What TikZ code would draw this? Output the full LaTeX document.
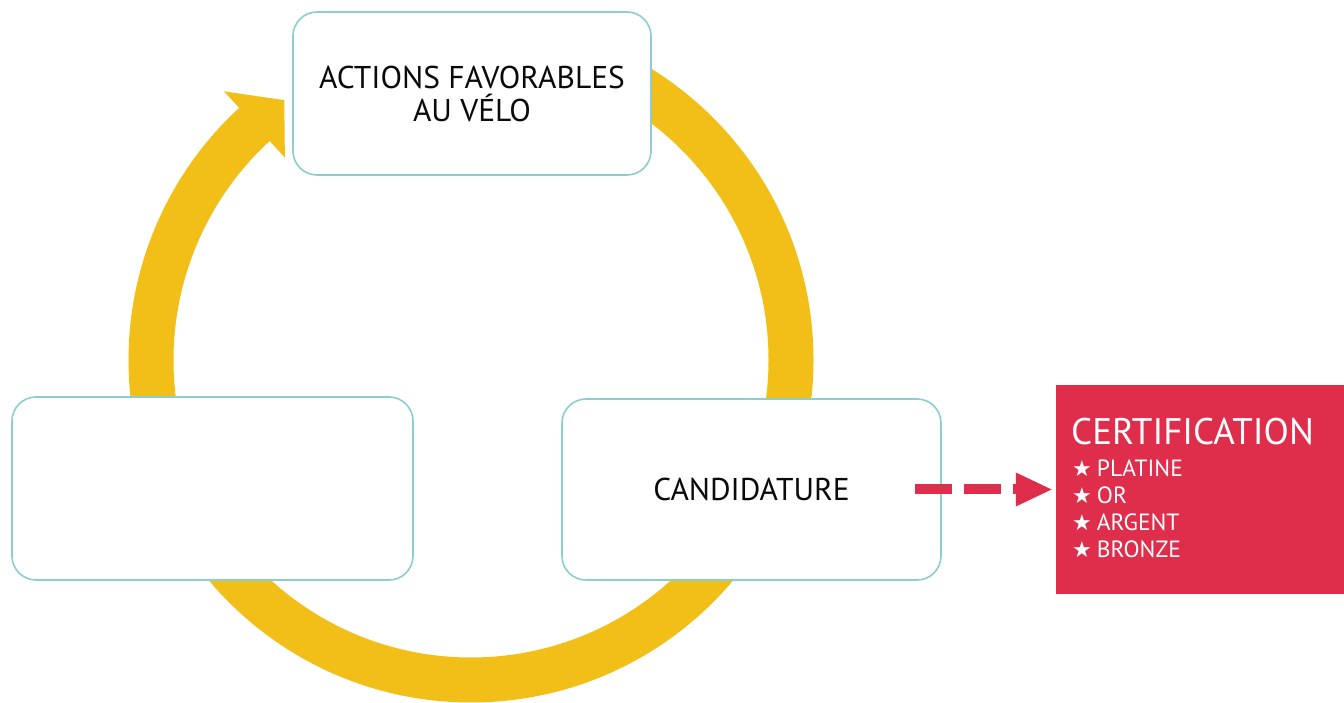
\documentclass[tikz,border=0pt]{standalone}
\usepackage{fontspec}
\setmainfont{PT Sans}
\newfontfamily\symfont{DejaVu Sans}
\usetikzlibrary{calc,arrows.meta}
\definecolor{ringyellow}{RGB}{242,190,24}
\definecolor{boxedge}{RGB}{140,205,205}
\definecolor{certred}{RGB}{223,46,76}
\definecolor{textdark}{RGB}{10,10,10}
\begin{document}
\begin{tikzpicture}[x=1pt,y=1pt,
  stage/.style={draw=boxedge, line width=1.6pt, fill=white, rounded corners=24pt,
    align=center, font=\fontsize{31.5}{33}\selectfont, text=textdark, inner sep=0pt},
  certbox/.style={fill=certred, inner sep=0pt},
  certtext/.style={anchor=base west, text=white, inner sep=0pt},
  ring/.style={ringyellow, line width=45pt},
  dasharrow/.style={certred, line width=10pt, dash pattern=on 37pt off 12pt,
    -{Triangle[length=37pt,width=31pt]}}
]
\useasboundingbox (0,0) rectangle (1344,703);
\coordinate (ctr) at (471,343);
% cycle ring
\draw[ring] ($(ctr)+(90:320)$) arc[start angle=90, end angle=-228.2, radius=320];
\fill[ringyellow] ($(ctr)+(132.6:365)$) -- ($(ctr)+(125.7:320)$) -- ($(ctr)+(132.6:275)$) -- cycle;
% stages
\node[stage, minimum width=358pt, minimum height=163pt] (act) at (472,609.5) {ACTIONS FAVORABLES\\AU VÉLO};
\node[stage, minimum width=401pt, minimum height=183pt] (blank) at (212.5,214.5) {};
\node[stage, minimum width=379pt, minimum height=181pt] (cand) at (751.5,213.5) {CANDIDATURE};
% certification
\node[certbox, minimum width=288pt, minimum height=209pt] (cert) at (1200,213.5) {};
\node[certtext, font=\fontsize{37}{40}\selectfont] (certtitle) at (1071,258) {CERTIFICATION};
\foreach \t [count=\i] in {PLATINE,OR,ARGENT,BRONZE}
  \node[certtext, font=\fontsize{23.5}{26}\selectfont] (lvl\i) at (1072,{226-27*(\i-1)})
    {{\symfont\fontsize{22}{22}\selectfont ★}\hspace{5pt}\t};
% dashed arrow
\coordinate (dstart) at ($(cand.east)+(-27,0)$);
\draw[dasharrow, shorten >=3pt] (dstart) -- (cert.west);
\end{tikzpicture}
\end{document}
